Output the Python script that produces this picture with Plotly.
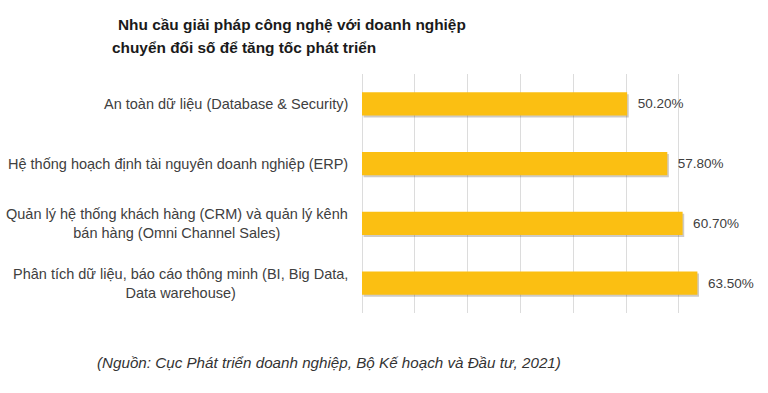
import plotly.graph_objects as go

categories = [
    "An toàn dữ liệu (Database & Security)",
    "Hệ thống hoạch định tài nguyên doanh nghiệp (ERP)",
    "Quản lý hệ thống khách hàng (CRM) và quản lý kênh<br>bán hàng (Omni Channel Sales)",
    "Phân tích dữ liệu, báo cáo thông minh (BI, Big Data,<br>Data warehouse)",
]
values = [50.2, 57.8, 60.7, 63.5]

title_lines = [
    "Nhu cầu giải pháp công nghệ với doanh nghiệp",
    "chuyển đổi số để tăng tốc phát triển",
]
source_text = "(Nguồn: Cục Phát triển doanh nghiệp, Bộ Kế hoạch và Đầu tư, 2021)"

FONT = "Liberation Sans, Arial, sans-serif"
TEXT_COLOR = "#404040"

L, R = 362, 732
W = R - L


def px_to_paper(px):
    return (px - L) / W


BAR_W = 0.39

fig = go.Figure()
# soft shadow under the bars
fig.add_trace(go.Bar(
    x=values,
    y=categories,
    orientation="h",
    width=BAR_W,
    offset=-BAR_W / 2 + 0.035,
    base=0.3,
    marker=dict(color="rgba(80,70,50,0.28)", line=dict(width=0)),
    hoverinfo="skip",
))
fig.add_trace(go.Bar(
    x=values,
    y=categories,
    orientation="h",
    width=BAR_W,
    offset=-BAR_W / 2,
    marker=dict(color="#FBBF12", line=dict(width=0)),
    text=values,
    texttemplate="\u00a0\u00a0%{x:.2f}%",
    textposition="outside",
    textfont=dict(family=FONT, size=13.5, color=TEXT_COLOR),
    cliponaxis=False,
    constraintext="none",
    hoverinfo="skip",
))

for cat in categories:
    fig.add_annotation(
        x=0, xref="paper", y=cat, yref="y",
        text=cat, showarrow=False,
        xanchor="right", yanchor="middle", align="center",
        xshift=-12,
        font=dict(family=FONT, size=14.5, color=TEXT_COLOR),
    )

title_pos = [(116, 50), (110, 27)]
for line, (px, ys) in zip(title_lines, title_pos):
    fig.add_annotation(
        x=px_to_paper(px), xref="paper", y=1, yref="paper",
        text="<b>" + line + "</b>", showarrow=False,
        xanchor="left", yanchor="middle", align="left", yshift=ys,
        font=dict(family=FONT, size=15.4, color="#1a1a1a"),
    )

fig.add_annotation(
    x=px_to_paper(95), xref="paper", y=0, yref="paper",
    text="<i>" + source_text + "</i>", showarrow=False,
    xanchor="left", yanchor="middle", align="left", yshift=-49,
    font=dict(family=FONT, size=15.2, color="#333333"),
)

fig.update_layout(
    width=768, height=393,
    margin=dict(l=L, r=768 - R, t=74, b=80),
    paper_bgcolor="white", plot_bgcolor="white",
    showlegend=False,
    barmode="overlay",
    xaxis=dict(range=[0, 70.05], dtick=10, showticklabels=False,
               showgrid=True, gridcolor="#dcdcdc", gridwidth=1,
               zeroline=True, zerolinecolor="#dcdcdc", zerolinewidth=1,
               showline=False, fixedrange=True),
    yaxis=dict(autorange="reversed", showticklabels=False, showgrid=False,
               zeroline=False, showline=False, fixedrange=True),
)

fig.write_html("out.html")
